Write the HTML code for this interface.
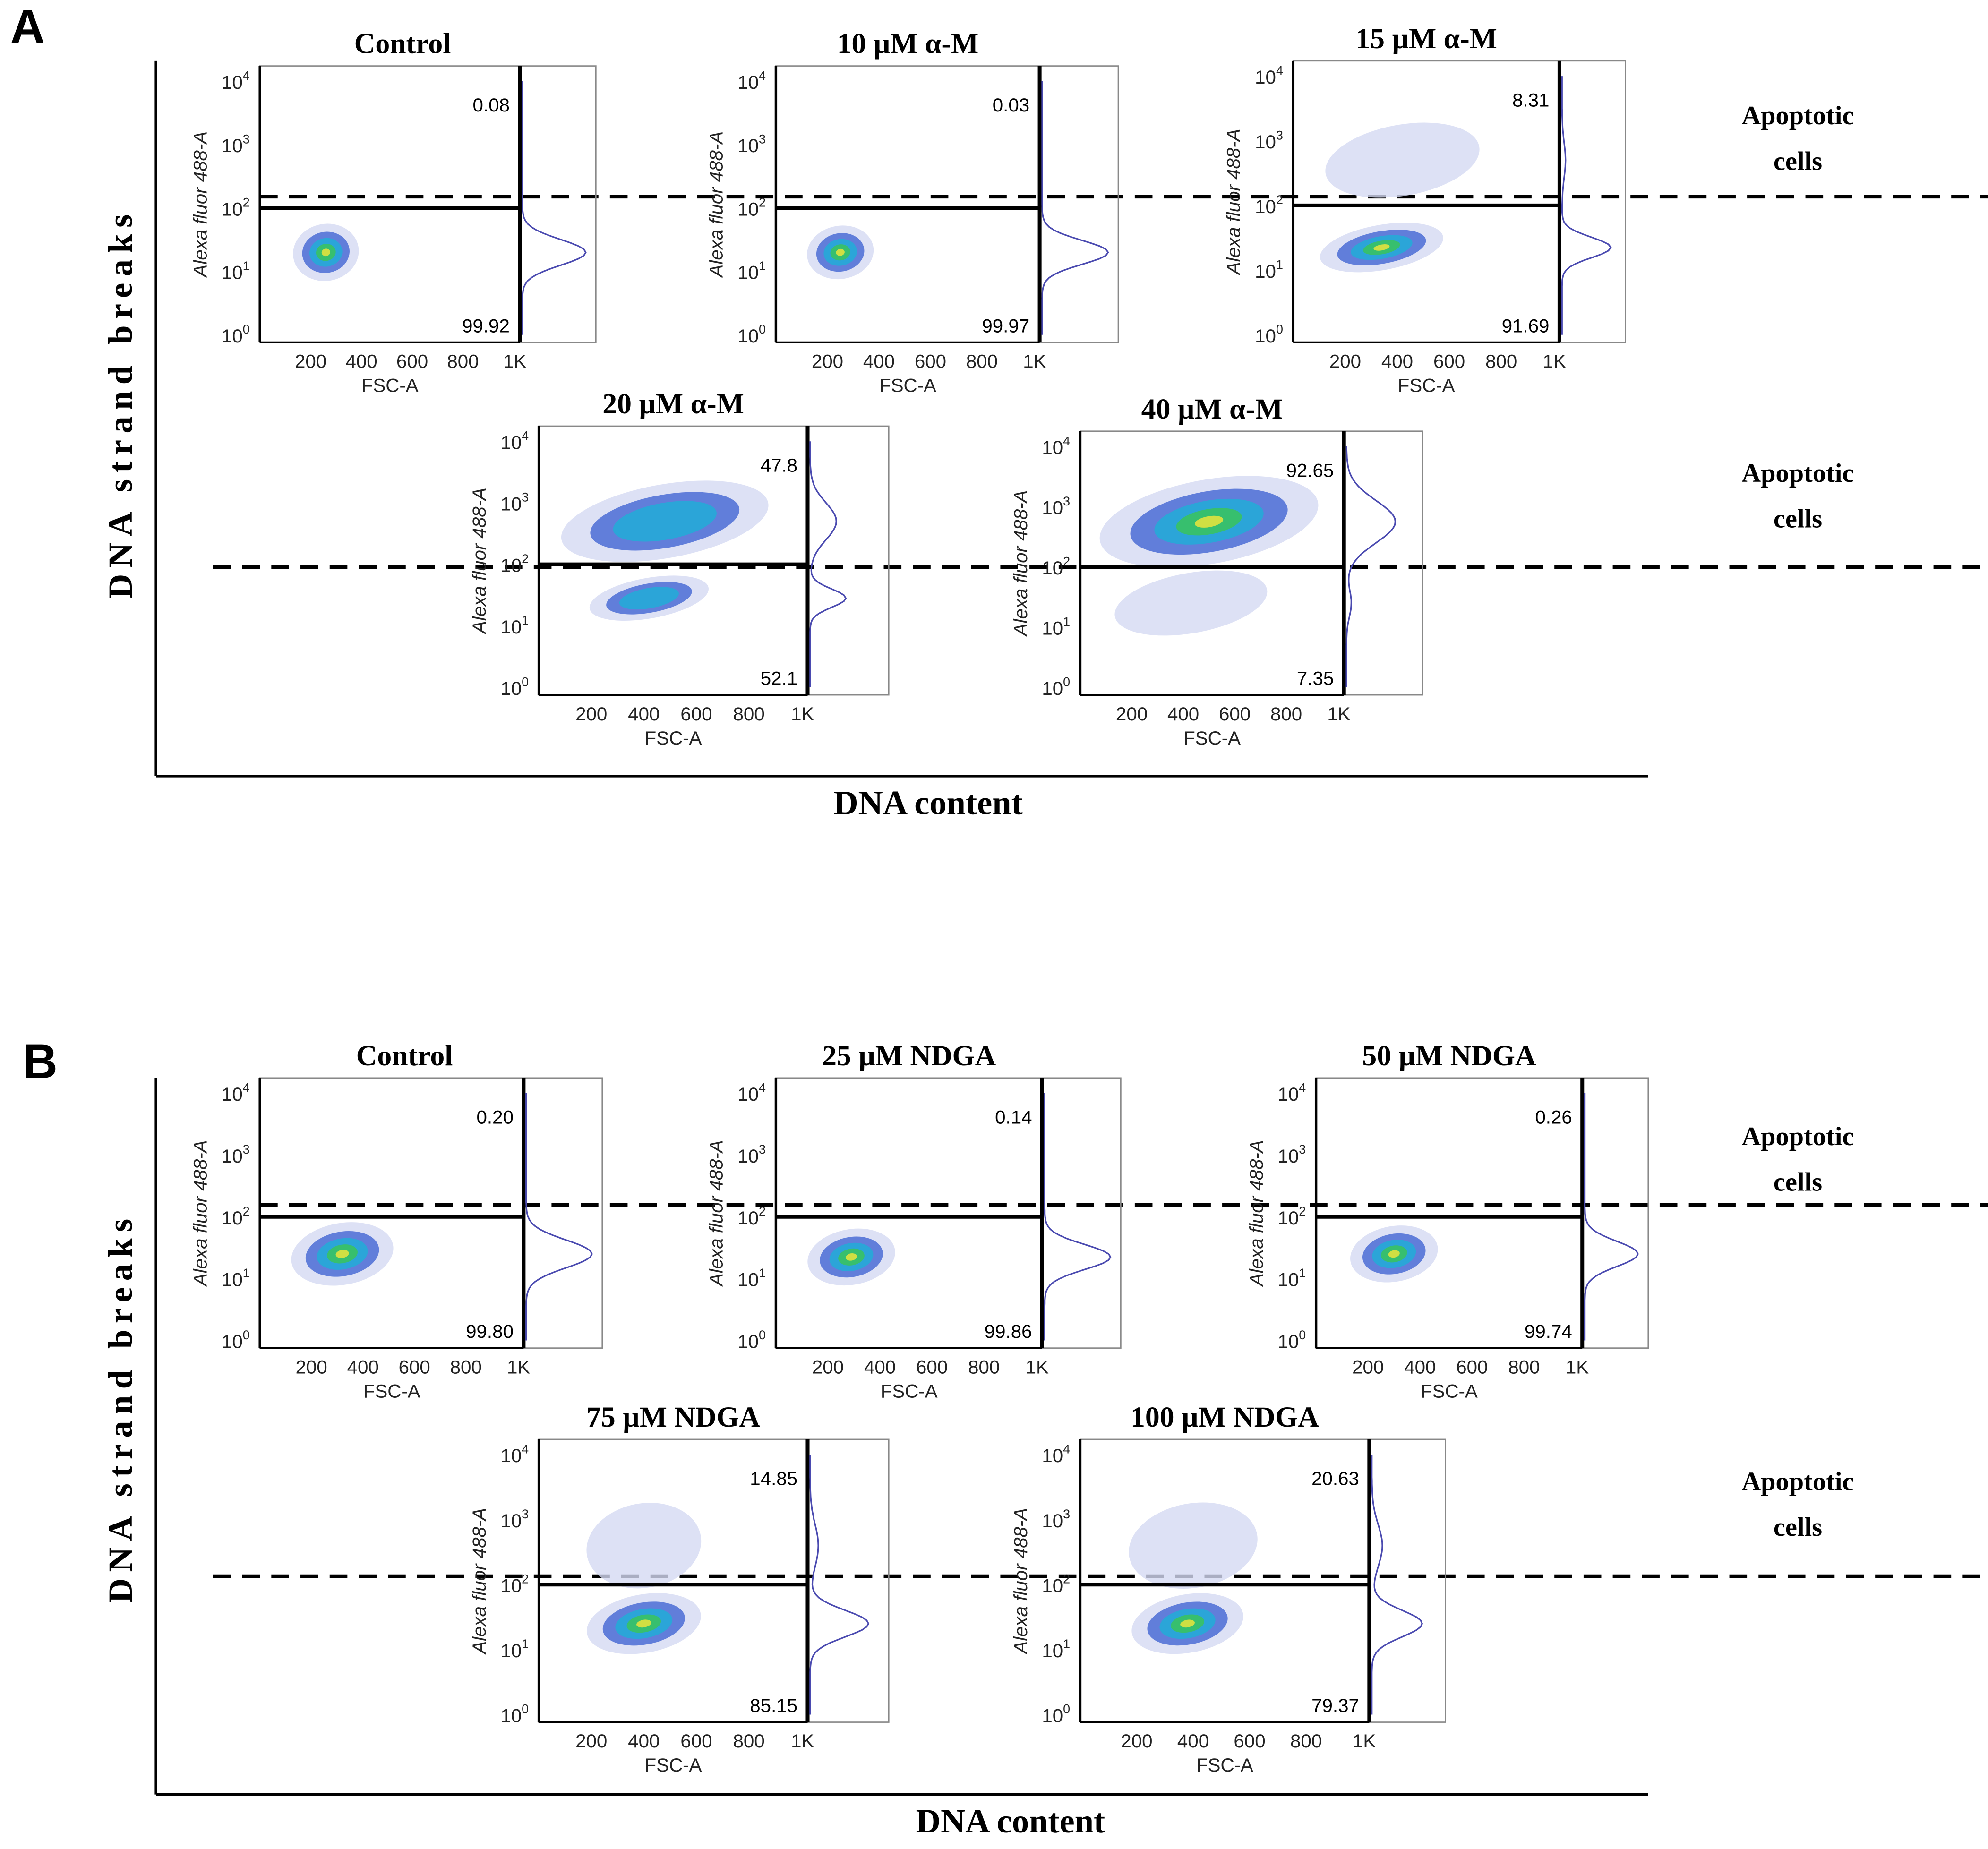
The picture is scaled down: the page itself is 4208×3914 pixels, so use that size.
<!DOCTYPE html>
<html><head><meta charset="utf-8"><style>
html,body{margin:0;padding:0;background:#fff}
svg{display:block}
.t{font-family:"Liberation Serif",serif;font-weight:bold}
.s{font-family:"Liberation Sans",sans-serif}
</style></head><body>
<svg id="fig" xmlns="http://www.w3.org/2000/svg" width="4208" height="3914" viewBox="0 0 1568 1458" preserveAspectRatio="none">
<g id="static">
<text x="8" y="34" class="s" font-size="38" font-weight="bold">A</text>
<text x="18" y="850" class="s" font-size="38" font-weight="bold">B</text>
<line x1="123" y1="48" x2="123" y2="612" stroke="#000" stroke-width="2"/>
<line x1="123" y1="612" x2="1300" y2="612" stroke="#000" stroke-width="2"/>
<text x="732" y="642" class="t" font-size="27" text-anchor="middle">DNA content</text>
<text transform="translate(104,318) rotate(-90)" class="t" font-size="27" letter-spacing="5" text-anchor="middle">DNA strand breaks</text>
<line x1="123" y1="850" x2="123" y2="1415" stroke="#000" stroke-width="2"/>
<line x1="123" y1="1415" x2="1300" y2="1415" stroke="#000" stroke-width="2"/>
<text x="797" y="1445" class="t" font-size="27" text-anchor="middle">DNA content</text>
<text transform="translate(104,1110) rotate(-90)" class="t" font-size="27" letter-spacing="5" text-anchor="middle">DNA strand breaks</text>
</g>
<g id="panels"></g>
</svg>
<script>
const NS="http://www.w3.org/2000/svg";
const titles=["Control","10 µM  α-M","15 µM  α-M","20 µM  α-M","40 µM  α-M","Control","25 µM  NDGA","50 µM  NDGA","75 µM  NDGA","100 µM  NDGA"];
const upperPct=["0.08","0.03","8.31","47.8","92.65","0.20","0.14","0.26","14.85","20.63"];
const lowerPct=["99.92","99.97","91.69","52.1","7.35","99.80","99.86","99.74","85.15","79.37"];
// live cluster: FSC centre, log10 centre, FSC half-width, log half-height
const liveFsc=[260,250,340,420,430,320,290,300,400,380];
const liveLog=[1.3,1.3,1.35,1.45,1.4,1.4,1.35,1.4,1.4,1.4];
const liveFscSd=[130,130,240,230,300,200,170,170,220,200];
const liveLogSd=[0.45,0.42,0.35,0.33,0.5,0.5,0.45,0.45,0.45,0.45];
// apoptotic cluster
const apoFsc=[0,0,420,480,500,0,0,0,400,400];
const apoLog=[2.5,2.5,2.7,2.7,2.75,2.5,2.5,2.5,2.6,2.6];
const apoFscSd=[0,0,300,400,430,0,0,0,220,230];
const apoLogSd=[0,0,0.55,0.6,0.7,0,0,0,0.65,0.65];
const xTicks=[200,400,600,800,1024];
const xTickLabels=["200","400","600","800","1K"];
const yTicks=[0,1,2,3,4];
// layout only
const L=[[205,52,205,218,60],[612,52,208,218,62],[1020,48,210,222,52],[425,336,212,212,64],[852,340,208,208,62],
[205,850,208,213,62],[612,850,210,213,62],[1038,850,210,213,52],[425,1135,212,223,64],[852,1135,228,223,60]];
const dashes=[[205,155],[168,447],[205,950],[168,1243]];
const apoLabels=[[1418,98],[1418,380],[1418,903],[1418,1175]];
const root=document.getElementById('panels');
function el(t,a,p){const e=document.createElementNS(NS,t);for(const k in a)e.setAttribute(k,a[k]);(p||root).appendChild(e);return e;}
dashes.forEach((d,i)=>{const e=el('line',{x1:d[0],y1:d[1],x2:1568,y2:d[1],stroke:'#000','stroke-width':3,'stroke-dasharray':'14 9'});

});
apoLabels.forEach(a=>{const t=el('text',{x:a[0],y:a[1],class:'t','font-size':21,'text-anchor':'middle'});t.textContent='Apoptotic';


const t2=el('text',{x:a[0],y:a[1]+36,class:'t','font-size':21,'text-anchor':'middle'});t2.textContent='cells';

});
const cols=['#d4daf3','#5a78d8','#28a8d8','#38c068','#d8e040'];
const sc=[1.0,0.72,0.5,0.3,0.13];
function cluster(g,cx,cy,rx,ry,pct,name){
  const n=pct>60?5:pct>40?3:pct>1?1:0;
  for(let k=0;k<n;k++){const e=el('ellipse',{cx:cx,cy:cy,rx:rx*sc[k],ry:ry*sc[k],fill:cols[k],opacity:k==0?0.8:0.95,transform:`rotate(-10 ${cx} ${cy})`},g);
    
    }
}
titles.forEach((ti,i)=>{
 const [x0,y0,w,h,hw]=L[i];
 const g=el('g',{});
 
 
 const sx=v=>x0+v/1024*w;
 const sy=v=>y0+h-6-v/4*(h-18);
 const ys=(h-18)/4;
 const cid='c'+i;const cp=el('clipPath',{id:cid},g);el('rect',{x:x0,y:y0,width:w,height:h},cp);
 const dots=el('g',{'clip-path':'url(#'+cid+')'},g);
 const up=parseFloat(upperPct[i]),lo=parseFloat(lowerPct[i]);
 if(apoFscSd[i]>0) cluster(dots,sx(apoFsc[i]),sy(apoLog[i]),apoFscSd[i]/1024*w,apoLogSd[i]*ys,up,'apoptotic-population');
 cluster(dots,sx(liveFsc[i]),sy(liveLog[i]),liveFscSd[i]/1024*w,liveLogSd[i]*ys,lo,'live-population-density');
 const fr=el('rect',{x:x0,y:y0,width:w+hw,height:h,fill:'none',stroke:'#888','stroke-width':1},g);
 
 
 el('line',{x1:x0,y1:y0,x2:x0,y2:y0+h,stroke:'#000','stroke-width':2},g);
 el('line',{x1:x0,y1:y0+h,x2:x0+w,y2:y0+h,stroke:'#000','stroke-width':1.5},g);
 el('line',{x1:x0+w,y1:y0,x2:x0+w,y2:y0+h,stroke:'#000','stroke-width':3},g);
 const gy=sy(2.0);
 const gate=el('line',{x1:x0,y1:gy,x2:x0+w,y2:gy,stroke:'#000','stroke-width':3},g);
 
 
 let d='';for(let k=0;k<=80;k++){const lv=4*k/80;let v=Math.exp(-Math.pow((lv-liveLog[i])/(liveLogSd[i]*0.45),2)/2)*(lo/100);
  if(apoLogSd[i]>0)v+=Math.exp(-Math.pow((lv-apoLog[i])/(apoLogSd[i]*0.5),2)/2)*(up/100)*0.8;
  d+=(k?'L':'M')+(x0+w+2+v*(hw-10)).toFixed(1)+' '+sy(lv).toFixed(1);}
 const hp=el('path',{d:d,fill:'none',stroke:'#4a4ab0','stroke-width':1.2},g);
 
 
 yTicks.forEach(v=>{const t=el('text',{x:x0-8,y:sy(v)+6,class:'s','font-size':15,'text-anchor':'end',fill:'#222'},g);
  t.innerHTML='10<tspan dy="-7" font-size="10">'+v+'</tspan>';
  
  });
 xTicks.forEach((v,k)=>{const t=el('text',{x:sx(v)-(k==4?4:0),y:y0+h+20,class:'s','font-size':15,'text-anchor':'middle',fill:'#222'},g);t.textContent=xTickLabels[k];
  
  });
 const xt=el('text',{x:x0+w/2,y:y0+h+39,class:'s','font-size':15,'text-anchor':'middle',fill:'#222'},g);xt.textContent='FSC-A';
 
 
 const yt=el('text',{transform:`translate(${x0-42},${y0+h/2}) rotate(-90)`,class:'s','font-size':15,'font-style':'italic','text-anchor':'middle',fill:'#222'},g);yt.textContent='Alexa fluor 488-A';
 
 
 const tt=el('text',{x:x0+w/2+(i==0||i==5?10:0),y:y0-10,class:'t','font-size':23,'text-anchor':'middle'},g);tt.textContent=ti;
 
 
 const ut=el('text',{x:x0+w-8,y:y0+36,class:'s','font-size':15,'text-anchor':'end'},g);ut.textContent=upperPct[i];
 
 
 const lt=el('text',{x:x0+w-8,y:y0+h-8,class:'s','font-size':15,'text-anchor':'end'},g);lt.textContent=lowerPct[i];
 
 
});
</script>
</body></html>
